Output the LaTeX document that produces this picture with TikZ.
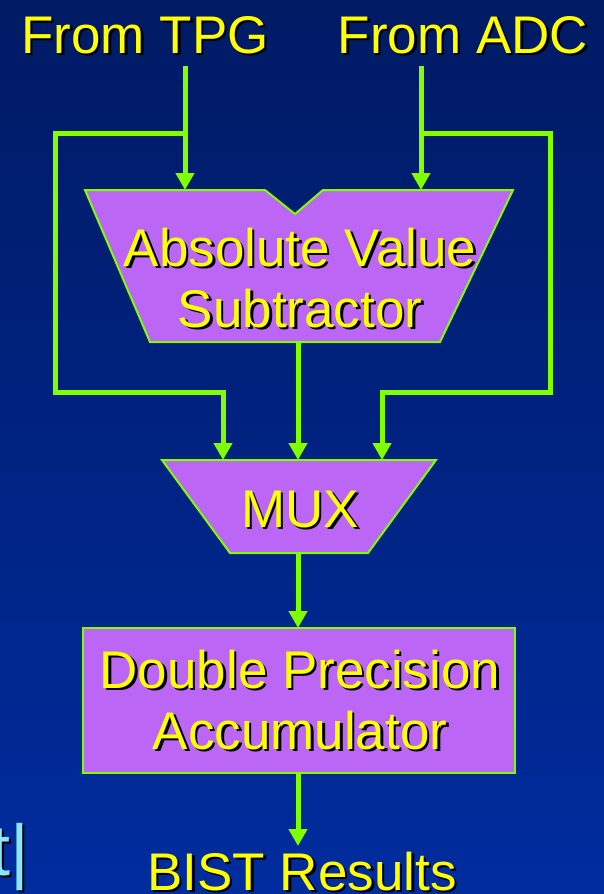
\documentclass[tikz,border=0pt]{standalone}
\usepackage{fontspec}
\setmainfont{Liberation Sans}
\usetikzlibrary{arrows.meta,positioning}

\definecolor{slidetop}{RGB}{0,26,100}
\definecolor{slidebottom}{RGB}{0,44,158}
\definecolor{blockfill}{RGB}{187,102,245}
\definecolor{wire}{RGB}{128,255,0}
\definecolor{captext}{RGB}{255,255,0}
\definecolor{formula}{RGB}{140,230,250}

\tikzset{
  wire/.style = {draw = wire, line width = 5pt, line join = miter},
  wirearrow/.style = {wire, -{Triangle[length = 17pt, width = 18pt]}},
  block/.style = {fill = blockfill, draw = wire, line width = 2pt},
  caption/.style = {text = captext, inner sep = 0pt, align = center,
                    font = \fontsize{53}{61}\selectfont},
  captionshadow/.style = {caption, text = black, xshift = 2.5pt, yshift = -2.5pt},
}

\begin{document}
\begin{tikzpicture}[x = 1pt, y = -1pt]
  % slide background
  \shade[top color = slidetop, bottom color = slidebottom] (0,0) rectangle (604,894);
  \useasboundingbox (0,0) rectangle (604,894);

  % blocks
  \draw[block] (85,190) -- (265,190) -- (295,214) -- (323,190) -- (513,190)
               -- (440,342) -- (150,342) -- cycle;
  \draw[block] (162,460) -- (436,460) -- (368,553) -- (230,553) -- cycle;
  \node[block, minimum width = 432, minimum height = 145] (acc) at (299,700.5) {};

  % connector end points
  \coordinate (tpg out)  at (185,66);
  \coordinate (tpg tap)  at (185,133);
  \coordinate (sub in1)  at (185,190);
  \coordinate (adc out)  at (421,66);
  \coordinate (adc tap)  at (421,133);
  \coordinate (sub in2)  at (421,190);
  \coordinate (sub out)  at (298,342);
  \coordinate (mux in1)  at (223,460);
  \coordinate (mux in2)  at (298,460);
  \coordinate (mux in3)  at (382,460);
  \coordinate (mux out)  at (298,553);
  \coordinate (acc in)   at (298,628);
  \coordinate (acc out)  at (298,773);
  \coordinate (bist in)  at (298,846);

  % connectors
  \draw[wirearrow] (tpg out) -- (sub in1);
  \draw[wirearrow] (adc out) -- (sub in2);
  \draw[wirearrow] (tpg tap) -- (55,133) -- (55,392) -- (223,392) -- (mux in1);
  \draw[wirearrow] (adc tap) -- (550,133) -- (550,392) -- (382,392) -- (mux in3);
  \draw[wirearrow] (sub out) -- (mux in2);
  \draw[wirearrow] (mux out) -- (acc in);
  \draw[wirearrow] (acc out) -- (bist in);

  % texts
  \node[captionshadow, anchor = base] at (145,53) {From TPG};
  \node[caption, anchor = base] (tpg) at (145,53) {From TPG};
  \node[captionshadow, anchor = base] at (463,53) {From ADC};
  \node[caption, anchor = base] (adc) at (463,53) {From ADC};
  \node[captionshadow] at (300,278) {Absolute Value\\Subtractor};
  \node[caption] (sub) at (300,278) {Absolute Value\\Subtractor};
  \node[captionshadow, anchor = base] at (300,527) {MUX};
  \node[caption, anchor = base] (mux) at (300,527) {MUX};
  \node[captionshadow] at (300,700) {Double Precision\\Accumulator};
  \node[caption] (acctext) at (300,700) {Double Precision\\Accumulator};
  \node[captionshadow, anchor = base] at (302,890) {BIST Results};
  \node[caption, anchor = base] (bist) at (302,890) {BIST Results};

  % cut-off formula at the slide edge
  \node[captionshadow, text = black, font = \fontsize{72}{72}\selectfont,
        anchor = base east] at (29,875) {t|};
  \node[caption, text = formula, font = \fontsize{72}{72}\selectfont,
        anchor = base east] (formula) at (29,875) {t|};
\end{tikzpicture}
\end{document}
